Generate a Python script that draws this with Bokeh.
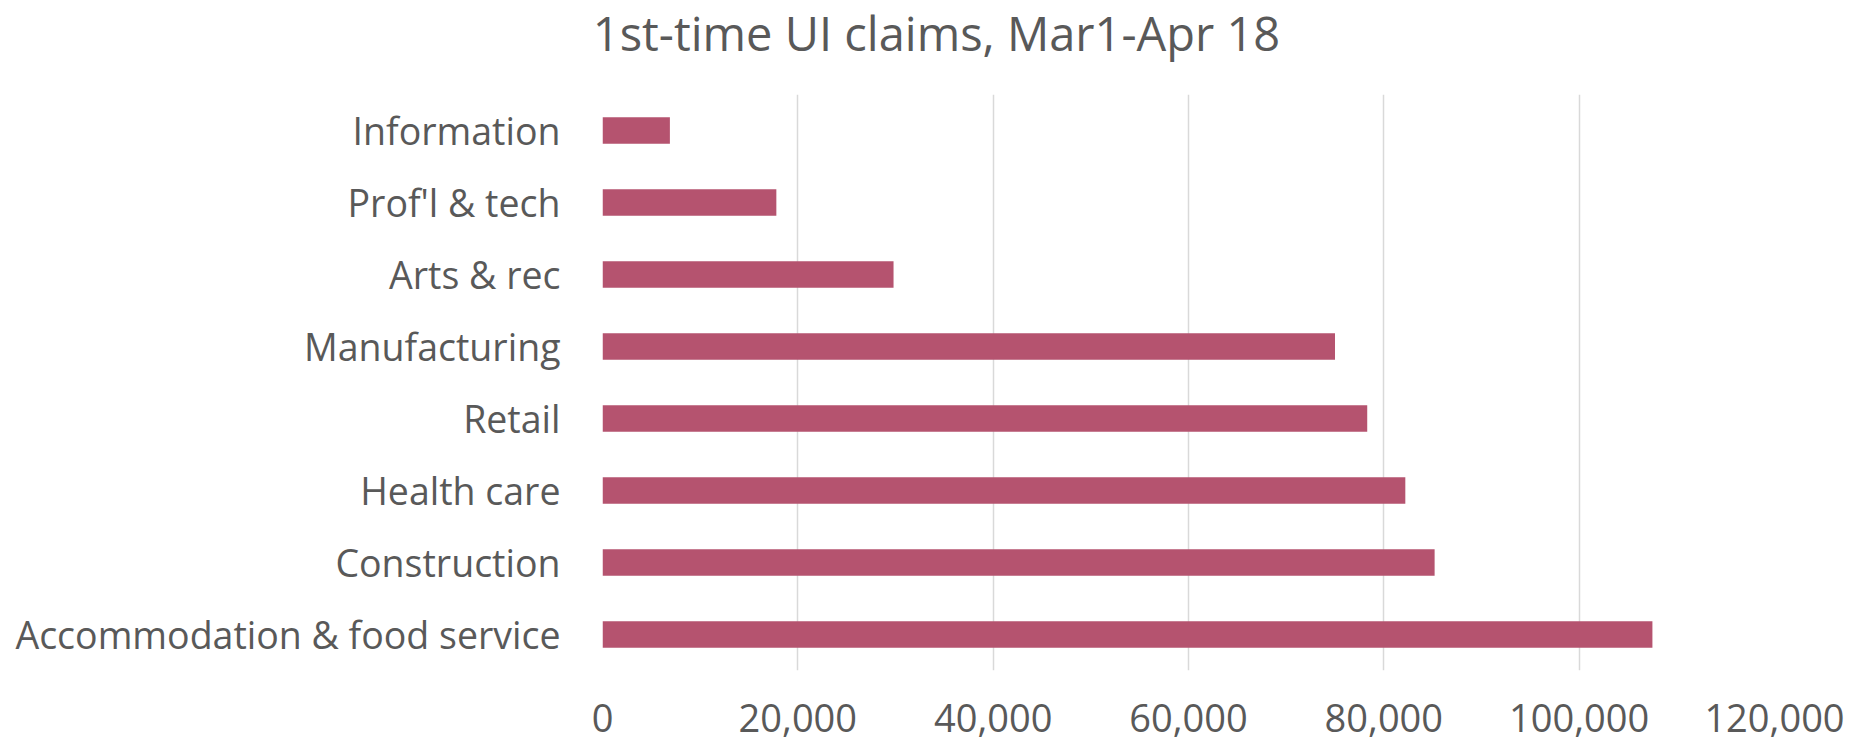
from bokeh.plotting import figure
from bokeh.models import Range1d, FixedTicker, NumeralTickFormatter, ColumnDataSource, Label
from bokeh.embed import file_html
from bokeh.resources import INLINE

categories = ["Accommodation & food service", "Construction", "Health care", "Retail",
              "Manufacturing", "Arts & rec", "Prof'l & tech", "Information"]
claims = [107500, 85200, 82200, 78300, 75000, 29800, 17800, 6900]
x_ticks = [0, 20000, 40000, 60000, 80000, 100000, 120000]
title_text = "1st-time UI claims, Mar1-Apr 18"

FONT = "Open Sans"
GREY = "#595959"

src = ColumnDataSource(dict(cat=categories, val=claims))

p = figure(width=1857, height=742, y_range=categories, x_range=Range1d(0, 120000),
           output_backend="svg", toolbar_location=None)
p.min_border_left = 602
p.min_border_right = 83
p.min_border_top = 94
p.min_border_bottom = 72

p.hbar(y="cat", right="val", left=0, height=0.37, source=src, color="#B5536F", line_color=None)

# chart title placed in the panel above the frame (screen offsets measured from that panel)
title = Label(x=334, y=62, x_units="screen", y_units="screen", text=title_text,
              text_align="center", text_baseline="alphabetic",
              text_font=FONT, text_font_size="47px", text_color=GREY)
p.add_layout(title, "above")

p.outline_line_color = None
p.background_fill_color = "white"
p.border_fill_color = "white"

p.xaxis.ticker = FixedTicker(ticks=x_ticks)
p.xaxis.formatter = NumeralTickFormatter(format="0,0")
p.xaxis.axis_line_color = None
p.xaxis.major_tick_line_color = None
p.xaxis.major_tick_out = 0
p.xaxis.minor_tick_line_color = None
p.xaxis.minor_tick_out = 0
p.xaxis.major_label_text_font = FONT
p.xaxis.major_label_text_font_size = "38px"
p.xaxis.major_label_text_color = GREY
p.xaxis.major_label_standoff = 33

p.yaxis.axis_line_color = None
p.yaxis.major_tick_line_color = None
p.yaxis.major_tick_out = 0
p.yaxis.minor_tick_line_color = None
p.yaxis.minor_tick_out = 0
p.yaxis.major_label_text_font = FONT
p.yaxis.major_label_text_font_size = "37.5px"
p.yaxis.major_label_text_color = GREY
p.yaxis.major_label_standoff = 42

p.ygrid.grid_line_color = None
p.xgrid.grid_line_color = "#D9D9D9"
p.xgrid.grid_line_width = 1.5

open("out.html", "w").write(file_html(p, INLINE))
